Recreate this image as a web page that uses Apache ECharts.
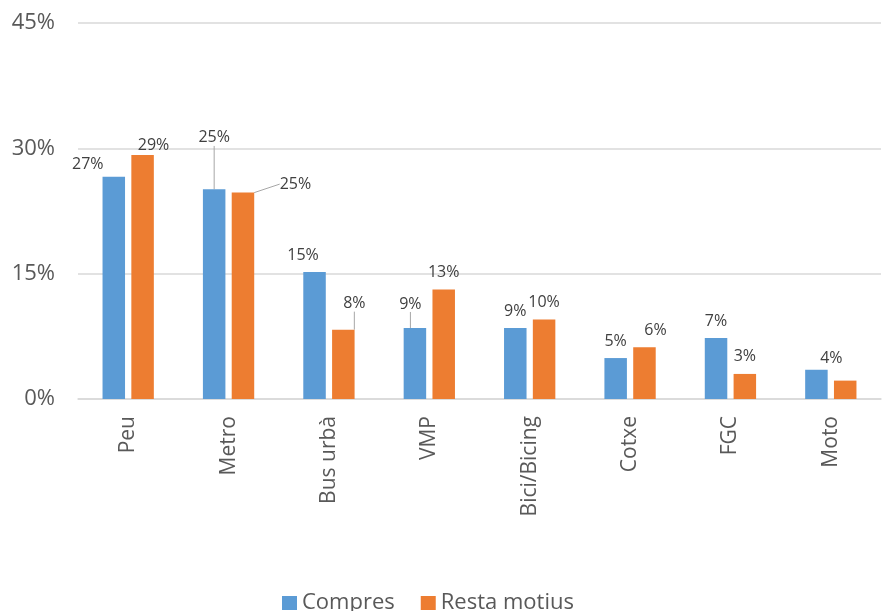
<!DOCTYPE html>
<html>
<head>
<meta charset="utf-8">
<script src="https://cdn.jsdelivr.net/npm/echarts@6/dist/echarts.min.js"></script>
<style>
  html, body { margin: 0; padding: 0; background: #ffffff; }
  #chart { width: 886px; height: 611px; }
</style>
</head>
<body>
<div id="chart"></div>
<script>
// ---- data ----
const categories = ['Peu', 'Metro', 'Bus urbà', 'VMP', 'Bici/Bicing', 'Cotxe', 'FGC', 'Moto'];
const seriesNames = ['Compres', 'Resta motius'];
const compres = [26.6, 25.1, 15.2, 8.5, 8.5, 4.9, 7.3, 3.5];
const restaMotius = [29.2, 24.7, 8.3, 13.1, 9.5, 6.2, 3.0, 2.2];
const compresLabels = ['27%', '25%', '15%', '9%', '9%', '5%', '7%', '4%'];
const restaLabels = ['29%', '25%', '8%', '13%', '10%', '6%', '3%', ''];
const yTicks = [0, 15, 30, 45];

// ---- label placement (styling only) ----
const labelOffsets = [
  [[-26, 4.5], [0, -34.5], [-11.5, 0], [-4.5, -7], [0, 0], [0, 0], [0, 0], [15, 6]],
  [[11, 7.5], [52.5, 8.5], [11, -9], [0, 0], [0, 0], [11, 0], [0, 0], [0, 0]]
];
const leaderLines = [
  [false, true, false, true, false, false, false, false],
  [false, true, true, false, false, false, false, false]
];

const colors = ['#5B9BD5', '#ED7D31'];
const font = '"Open Sans", "Noto Sans", sans-serif';

function buildData(values, labels, s) {
  return values.map((v, i) => ({
    value: v,
    label: {
      formatter: labels[i],
      show: labels[i] !== '',
      backgroundColor: (s === 0 && i === 1) ? '#ffffff' : 'transparent',
      padding: (s === 0 && i === 1) ? [0, 8] : 0
    },
    labelLine: { show: leaderLines[s][i] }
  }));
}

const chart = echarts.init(document.getElementById('chart'), null, { renderer: 'canvas' });

const seriesData = [compres, restaMotius];
const seriesLabels = [compresLabels, restaLabels];

chart.setOption({
  animation: false,
  color: colors,
  textStyle: { fontFamily: font },
  grid: { left: 78, right: 5, top: 23, bottom: 212, containLabel: false },
  legend: {
    data: seriesNames,
    left: 277,
    top: 587,
    itemWidth: 15,
    itemHeight: 14,
    itemGap: 26,
    icon: 'rect',
    textStyle: { fontSize: 22, color: '#595959', fontFamily: font }
  },
  xAxis: {
    type: 'category',
    data: categories,
    axisLine: { show: true, lineStyle: { color: '#D9D9D9', width: 1.5 } },
    axisTick: { show: false },
    axisLabel: {
      rotate: 90,
      margin: 17,
      fontSize: 21,
      color: '#595959',
      fontFamily: font,
      interval: 0
    }
  },
  yAxis: {
    type: 'value',
    min: yTicks[0],
    max: yTicks[yTicks.length - 1],
    interval: yTicks[1] - yTicks[0],
    axisLine: { show: false },
    axisTick: { show: false },
    splitLine: { lineStyle: { color: '#D9D9D9', width: 1.5 } },
    axisLabel: {
      formatter: v => v + '%',
      fontSize: 22,
      color: '#595959',
      margin: 23,
      fontFamily: font
    }
  },
  series: seriesData.map((vals, s) => ({
    name: seriesNames[s],
    type: 'bar',
    barWidth: 22.5,
    barGap: '28%',
    data: buildData(vals, seriesLabels[s], s),
    itemStyle: { color: colors[s] },
    label: {
      show: true,
      position: 'top',
      distance: 9,
      fontSize: 16,
      color: '#404040',
      fontFamily: font
    },
    labelLine: {
      show: false,
      lineStyle: { color: '#A6A6A6', width: 1 }
    },
    labelLayout: function (params) {
      const o = labelOffsets[params.seriesIndex][params.dataIndex];
      return { dx: o[0], dy: o[1] };
    }
  }))
});
</script>
</body>
</html>
